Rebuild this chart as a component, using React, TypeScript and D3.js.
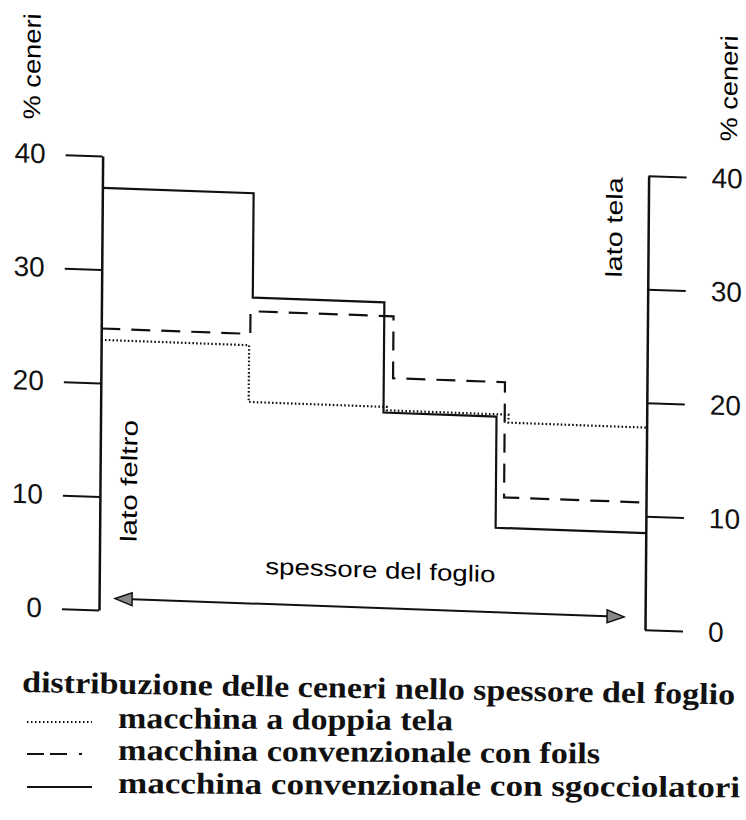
import { useEffect, useRef } from 'react';
import * as d3 from 'd3';

// thickness position (% of sheet, felt side = 0) where each layer starts/ends, and ash % in each layer
const DOTTED_EDGES = [0, 27.1, 52.4, 74.7, 100];
const DOTTED_VALUES = [23.8, 18.8, 18.5, 17.8];
const DASHED_EDGES = [0, 27.3, 53.5, 74.0, 100];
const DASHED_VALUES = [24.8, 26.8, 21.35, 11.2];
const SOLID_EDGES = [0, 27.7, 51.8, 72.5, 100];
const SOLID_VALUES = [37.2, 28.0, 18.3, 8.5];

const Y_TICKS = [0, 10, 20, 30, 40];
const Y_LABEL = '% ceneri';
const LEFT_SIDE = 'lato feltro';
const RIGHT_SIDE = 'lato tela';
const ARROW_LABEL = 'spessore del foglio';
const LEGEND_TITLE = 'distribuzione delle ceneri nello spessore del foglio';
const LEGEND_LABELS = [
  'macchina a doppia tela',
  'macchina convenzionale con foils',
  'macchina convenzionale con sgocciolatori',
];

const SANS = '"Liberation Sans", Arial, sans-serif';
const SERIF = '"Liberation Serif", "Times New Roman", serif';

export default function App() {
  const svgRef = useRef<SVGSVGElement>(null);

  useEffect(() => {
    if (!svgRef.current) return;
    const svg = d3.select(svgRef.current);
    svg.selectAll('*').remove();

    const x = d3.scaleLinear().domain([0, 100]).range([99, 645]);
    const y = d3.scaleLinear().domain([0, 40]).range([610, 156]);

    // the scan is a bit skewed: lean the whole plot the same way, pivot at left axis bottom
    const sy = 0.036;
    const sx = -0.008;
    const e = -sx * 610;
    const f = -sy * 99;
    const plot = svg.append('g').attr('transform', `matrix(1,${sy},${sx},1,${e},${f})`);

    const styleAxis = (g: d3.Selection<SVGGElement, unknown, null, undefined>) => {
      g.attr('font-family', SANS).attr('font-size', 28);
      g.select('.domain').attr('stroke', '#111').attr('stroke-width', 2.5);
      g.selectAll('.tick line').attr('stroke', '#111').attr('stroke-width', 2);
      g.selectAll('.tick text').attr('fill', '#111');
    };

    plot.append('g')
      .attr('transform', `translate(${x(0)},0)`)
      .call(d3.axisLeft(y).tickValues(Y_TICKS).tickSize(37).tickSizeOuter(0).tickPadding(20).tickFormat(d3.format('d')))
      .call(styleAxis);

    plot.append('g')
      .attr('transform', `translate(${x(100)},0)`)
      .call(d3.axisRight(y).tickValues(Y_TICKS).tickSize(38).tickSizeOuter(0).tickPadding(25).tickFormat(d3.format('d')))
      .call(styleAxis);

    const series = [
      { edges: DOTTED_EDGES, values: DOTTED_VALUES, dash: '1.6 2.2' },
      { edges: DASHED_EDGES, values: DASHED_VALUES, dash: '19 11' },
      { edges: SOLID_EDGES, values: SOLID_VALUES, dash: null },
    ];

    const line = d3.line<[number, number]>()
      .x(d => x(d[0]))
      .y(d => y(d[1]))
      .curve(d3.curveStepAfter);

    series.forEach(s => {
      const pts: [number, number][] = s.values.map((v, i) => [s.edges[i], v]);
      pts.push([s.edges[s.edges.length - 1], s.values[s.values.length - 1]]);
      plot.append('path')
        .attr('d', line(pts))
        .attr('fill', 'none')
        .attr('stroke', '#111')
        .attr('stroke-width', 2.2)
        .attr('stroke-dasharray', s.dash);
    });

    // y titles
    plot.append('text')
      .attr('transform', 'translate(36,69) rotate(-90)')
      .attr('text-anchor', 'middle')
      .attr('font-family', SANS).attr('font-size', 24)
      .attr('textLength', 106).attr('lengthAdjust', 'spacingAndGlyphs')
      .text(Y_LABEL);
    plot.append('text')
      .attr('transform', 'translate(733,66) rotate(-90)')
      .attr('text-anchor', 'middle')
      .attr('font-family', SANS).attr('font-size', 24)
      .attr('textLength', 106).attr('lengthAdjust', 'spacingAndGlyphs')
      .text(Y_LABEL);

    // side labels
    plot.append('text')
      .attr('transform', 'translate(136,480) rotate(-90)')
      .attr('text-anchor', 'middle')
      .attr('font-family', SANS).attr('font-size', 23)
      .attr('textLength', 122).attr('lengthAdjust', 'spacingAndGlyphs')
      .text(LEFT_SIDE);
    plot.append('text')
      .attr('transform', 'translate(619,209) rotate(-90)')
      .attr('text-anchor', 'middle')
      .attr('font-family', SANS).attr('font-size', 23)
      .attr('textLength', 100).attr('lengthAdjust', 'spacingAndGlyphs')
      .text(RIGHT_SIDE);

    // thickness arrow
    const ay = 598;
    const ax0 = 115;
    const ax1 = 624;
    const head = 17;
    const hw = 6.5;
    plot.append('line')
      .attr('x1', ax0 + head).attr('x2', ax1 - head)
      .attr('y1', ay).attr('y2', ay)
      .attr('stroke', '#111').attr('stroke-width', 2);
    plot.append('path')
      .attr('d', `M${ax0},${ay}L${ax0 + head},${ay - hw}L${ax0 + head},${ay + hw}Z`)
      .attr('fill', '#888').attr('stroke', '#111').attr('stroke-width', 1.5);
    plot.append('path')
      .attr('d', `M${ax1},${ay}L${ax1 - head},${ay - hw}L${ax1 - head},${ay + hw}Z`)
      .attr('fill', '#888').attr('stroke', '#111').attr('stroke-width', 1.5);
    plot.append('text')
      .attr('x', 380).attr('y', 568)
      .attr('text-anchor', 'middle')
      .attr('font-family', SANS).attr('font-size', 23)
      .attr('textLength', 230).attr('lengthAdjust', 'spacingAndGlyphs')
      .text(ARROW_LABEL);

    // legend
    const legend = svg.append('g');
    legend.append('text')
      .attr('transform', 'translate(22,692) rotate(1)')
      .attr('font-family', SERIF).attr('font-size', 30).attr('font-weight', 'bold')
      .attr('textLength', 713).attr('lengthAdjust', 'spacingAndGlyphs')
      .attr('fill', '#111')
      .text(LEGEND_TITLE);

    const rowBase = [728, 760, 793];
    const rowWidth = [335, 482, 622];
    const rowDash = ['1.5 2.5', '17 6 17 12 3 100', null];
    LEGEND_LABELS.forEach((label, i) => {
      legend.append('line')
        .attr('x1', 27).attr('x2', 92)
        .attr('y1', rowBase[i] - 6).attr('y2', rowBase[i] - 6)
        .attr('stroke', '#111').attr('stroke-width', 2)
        .attr('stroke-dasharray', rowDash[i]);
      legend.append('text')
        .attr('transform', `translate(118,${rowBase[i]}) rotate(0.4)`)
        .attr('font-family', SERIF).attr('font-size', 30).attr('font-weight', 'bold')
        .attr('textLength', rowWidth[i]).attr('lengthAdjust', 'spacingAndGlyphs')
        .attr('fill', '#111')
        .text(label);
    });
  }, []);

  return (
    <svg
      ref={svgRef}
      width={746}
      height={820}
      style={{ position: 'absolute', left: 0, top: 0, background: '#fff', display: 'block' }}
    />
  );
}
